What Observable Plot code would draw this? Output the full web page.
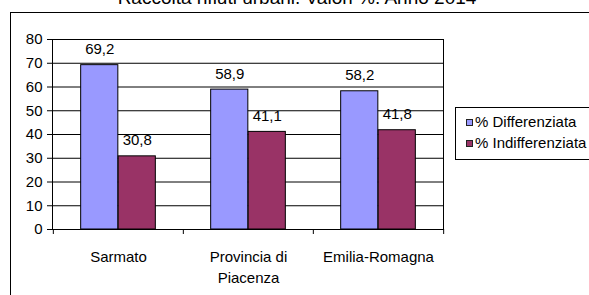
<!DOCTYPE html>
<html>
<head>
<meta charset="utf-8">
<script src="https://cdn.jsdelivr.net/npm/d3@7"></script>
<script src="https://cdn.jsdelivr.net/npm/@observablehq/plot@0.6"></script>
<style>
  html, body { margin: 0; padding: 0; background: white; }
  #wrap { position: relative; width: 589px; height: 295px; overflow: hidden; font-family: "Liberation Sans", Arial, sans-serif; color: black; }
  #border { position: absolute; left: 10px; top: 12px; width: 620px; height: 320px; border: 1px solid black; box-sizing: border-box; }
  #title { position: absolute; left: 0; width: 594px; text-align: center; top: -11.6px; font-size: 19px; line-height: 1; white-space: nowrap; }
  #legend { position: absolute; left: 455px; top: 107px; width: 150px; height: 53px; border: 1px solid black; box-sizing: border-box; background: white; }
  .lg-item { position: absolute; left: 0; font-size: 15px; line-height: 1; white-space: nowrap; }
  .lg-sw { position: absolute; left: 10px; width: 5px; height: 5px; border: 1px solid #222; }
  .lg-tx { position: absolute; left: 19px; top: 0; }
  #chart { position: absolute; left: 0; top: 0; }
</style>
</head>
<body>
<div id="wrap">
  <div id="border"></div>
  <div id="chart"></div>
  <div id="title"></div>
  <div id="legend"></div>
</div>
<script>
const titleText = "Raccolta rifiuti urbani. Valori %. Anno 2014";
const categories = ["Sarmato", "Provincia di\nPiacenza", "Emilia-Romagna"];
const differenziata = [69.2, 58.9, 58.2];
const indifferenziata = [30.8, 41.1, 41.8];
const seriesNames = ["% Differenziata", "% Indifferenziata"];
const seriesColors = ["#9999FF", "#993366"];
const yTicks = [0, 10, 20, 30, 40, 50, 60, 70, 80];

const W = 589, H = 295, ML = 52, MR = 146, MT = 39, MB = 66;
const bw = (W - ML - MR) / categories.length;
const barW = 37.5;
const fmt = v => v.toFixed(1).replace(".", ",");

const dRows = categories.map((c, i) => ({category: c, value: differenziata[i]}));
const iRows = categories.map((c, i) => ({category: c, value: indifferenziata[i]}));
const font = "'Liberation Sans', Arial, sans-serif";

const chart = Plot.plot({
  width: W, height: H,
  marginLeft: ML, marginRight: MR, marginTop: MT, marginBottom: MB,
  style: {fontFamily: font, fontSize: "15px", color: "black", background: "transparent", overflow: "visible"},
  x: {domain: categories, padding: 0, axis: null},
  y: {domain: [0, 80], axis: null},
  marks: [
    Plot.ruleY(yTicks.filter(d => d > 0), {stroke: "black", strokeWidth: 1}),
    Plot.barY(dRows, {x: "category", y: "value", fill: seriesColors[0], stroke: "black", strokeWidth: 1,
      insetLeft: bw / 2 - barW, insetRight: bw / 2}),
    Plot.barY(iRows, {x: "category", y: "value", fill: seriesColors[1], stroke: "black", strokeWidth: 1,
      insetLeft: bw / 2, insetRight: bw / 2 - barW}),
    Plot.frame({stroke: "black", strokeWidth: 1}),
    Plot.axisY({ticks: yTicks, tickSize: 5, tickPadding: 5, fontSize: 15, label: null, tickFormat: d => String(d)}),
    Plot.ruleX(categories, {x: d => d, dx: -bw / 2, y1: 0, y2: -2.1, stroke: "black"}),
    Plot.ruleX([categories[categories.length - 1]], {x: d => d, dx: bw / 2, y1: 0, y2: -2.1, stroke: "black"}),
    Plot.text(dRows, {x: "category", y: "value", text: d => fmt(d.value), dx: -barW / 2, dy: -11,
      lineAnchor: "bottom", fontSize: 15, fill: "black"}),
    Plot.text(iRows, {x: "category", y: "value", text: d => fmt(d.value), dx: barW / 2, dy: -11,
      lineAnchor: "bottom", fontSize: 15, fill: "black"}),
    Plot.text(categories, {x: d => d, frameAnchor: "bottom", lineAnchor: "top", dy: 18,
      lineHeight: 1.4, fontSize: 15, fill: "black"})
  ]
});
document.getElementById("chart").appendChild(chart);

document.getElementById("title").textContent = titleText;

const legend = document.getElementById("legend");
const rowTops = [6, 27];
seriesNames.forEach((name, i) => {
  const item = document.createElement("div");
  item.className = "lg-item";
  item.style.top = rowTops[i] + "px";
  item.style.left = "0px";
  const sw = document.createElement("div");
  sw.className = "lg-sw";
  sw.style.background = seriesColors[i];
  sw.style.top = "5px";
  const tx = document.createElement("div");
  tx.className = "lg-tx";
  tx.textContent = name;
  item.appendChild(sw);
  item.appendChild(tx);
  legend.appendChild(item);
});
</script>
</body>
</html>
